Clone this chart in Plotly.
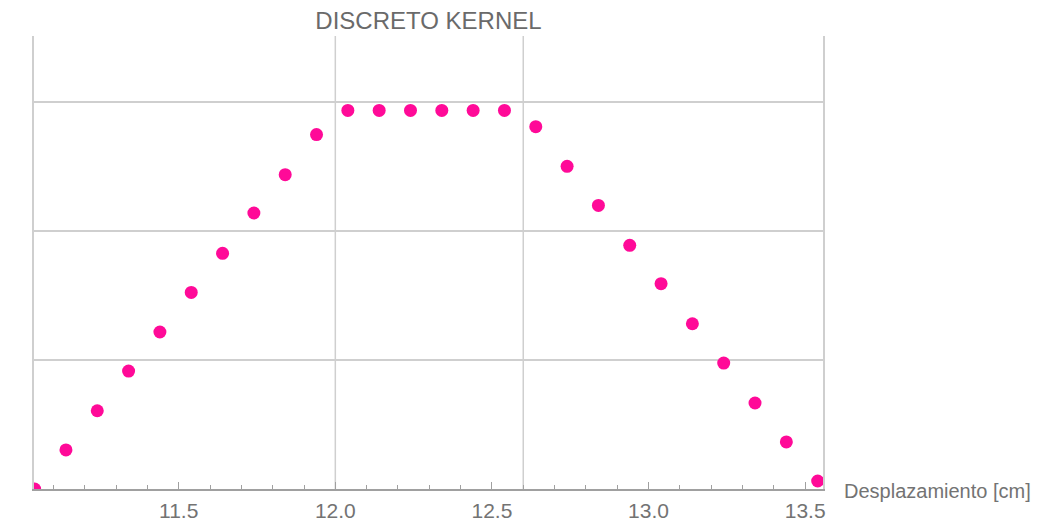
import plotly.graph_objects as go

# Discrete kernel samples: displacement [cm] vs. response (arbitrary units)
desplazamiento = [11.04, 11.14, 11.24, 11.34, 11.44, 11.54, 11.64, 11.74, 11.84, 11.94,
                  12.04, 12.14, 12.24, 12.34, 12.44, 12.54, 12.64, 12.74, 12.84, 12.94,
                  13.04, 13.14, 13.24, 13.34, 13.44, 13.54]
kernel = [0.0, 0.303, 0.607, 0.915, 1.218, 1.525, 1.828, 2.141, 2.438, 2.749,
          2.937, 2.937, 2.937, 2.937, 2.937, 2.937, 2.811, 2.503, 2.200, 1.890,
          1.593, 1.282, 0.977, 0.667, 0.365, 0.062]

x_tick_vals = [11.5, 12.0, 12.5, 13.0, 13.5]
x_tick_text = ["11.5", "12.0", "12.5", "13.0", "13.5"]
grid_x = [12.0, 12.6]
grid_y = [1, 2, 3]

x_range = [11.038, 13.557]
y_range = [0, 3.514]

GRID = "#cfcfcf"
AXIS = "#a0a0a0"
TEXT = "#737373"
FONT = "Liberation Sans, Arial, sans-serif"

fig = go.Figure()

fig.add_trace(go.Scatter(
    x=desplazamiento,
    y=kernel,
    mode="markers",
    marker=dict(size=13, color="#ff0a98", line=dict(width=0)),
    cliponaxis=True,
    showlegend=False,
    hoverinfo="x+y",
))

# vertical grid lines
for gx in grid_x:
    fig.add_vline(x=gx, line=dict(color=GRID, width=1.5), layer="below")

fig.update_layout(
    width=1044,
    height=525,
    margin=dict(l=34, r=221, t=36, b=36, autoexpand=False),
    paper_bgcolor="white",
    plot_bgcolor="white",
    font=dict(family=FONT, color=TEXT),
    title=dict(
        text="DISCRETO KERNEL",
        x=0.5, xref="paper", xanchor="center",
        y=1 - 21 / 525, yref="container", yanchor="middle",
        font=dict(size=24, color="#6a6a6a", family=FONT),
    ),
    xaxis=dict(
        range=x_range,
        automargin=False,
        tickmode="array",
        tickvals=x_tick_vals,
        ticktext=x_tick_text,
        ticks="inside",
        ticklen=7,
        tickwidth=1,
        tickcolor=AXIS,
        showline=True,
        linecolor=AXIS,
        linewidth=1.5,
        showgrid=False,
        zeroline=False,
        tickfont=dict(size=21, color=TEXT, family=FONT),
        ticklabelstandoff=2,
        minor=dict(dtick=0.1, tick0=11.0, ticks="inside", ticklen=4,
                   tickcolor=AXIS, tickwidth=1, showgrid=False),
    ),
    yaxis=dict(
        range=y_range,
        automargin=False,
        tickmode="array",
        tickvals=grid_y,
        showticklabels=False,
        ticks="",
        showgrid=True,
        gridcolor=GRID,
        gridwidth=1.5,
        zeroline=False,
        showline=True,
        mirror=True,
        linecolor=GRID,
        linewidth=1.5,
    ),
)

fig.add_annotation(
    text="Desplazamiento [cm]",
    xref="paper", yref="paper",
    x=1, y=0,
    xanchor="left", yanchor="middle",
    xshift=19, yshift=-2,
    showarrow=False,
    font=dict(size=20, color=TEXT, family=FONT),
)

fig.write_html("out.html")
